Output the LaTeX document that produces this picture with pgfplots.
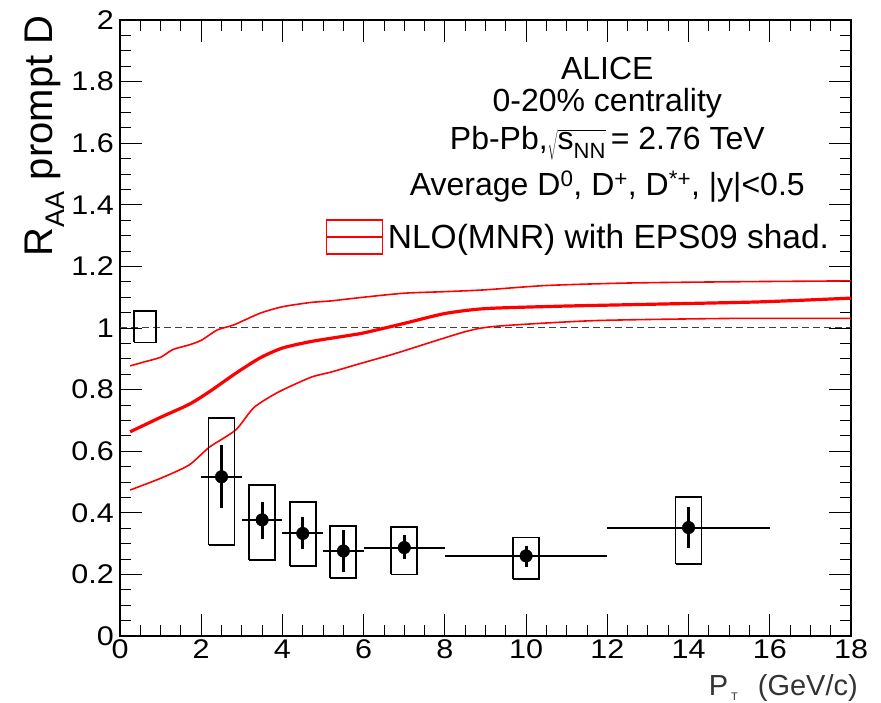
\documentclass[border=0pt]{standalone}
\usepackage{fontspec}
\setmainfont{Liberation Sans}
\usepackage{pgfplots}
\pgfplotsset{compat=1.18}

\newcommand{\ptext}[1]{\fontsize{#1}{#1}\selectfont}

\begin{document}
\begin{tikzpicture}[x=1pt,y=1pt]
\useasboundingbox (-120,-66) rectangle (761,636);
\begin{axis}[
  at={(0,0)}, anchor=south west,
  scale only axis, width=731pt, height=616pt,
  xmin=0, xmax=18, ymin=0, ymax=2,
  xtick={0,2,4,6,8,10,12,14,16,18},
  xticklabels={0,2,4,6,8,10,12,14,16,18},
  ytick={0,0.2,0.4,0.6,0.8,1,1.2,1.4,1.6,1.8,2},
  yticklabels={0,0.2,0.4,0.6,0.8,1,1.2,1.4,1.6,1.8,2},
  minor x tick num=3, minor y tick num=3,
  tick align=inside,
  major tick length=22pt, minor tick length=11pt,
  every tick/.style={black, line width=0.9pt},
  axis line style={black, line width=1.3pt},
  tick label style={font=\ptext{27}, xscale=1.13},
  yticklabel style={xshift=-2pt},
  /pgf/number format/assume math mode=true,
  legend style={at={(axis cs:5.05,1.295)}, anchor=west, draw=none, fill=none,
    font=\ptext{33.5}, inner sep=0pt, legend cell align=left,
    nodes={inner sep=4pt}},
  legend image code/.code={
    \draw[red, line width=1.6pt] (0pt,-17pt) rectangle (56pt,17pt);
    \draw[red, line width=2.6pt] (0pt,0pt) -- (56pt,0pt);
  },
]

% reference line at unity
\addplot[black!75, line width=1pt, dash pattern=on 7pt off 4pt, forget plot]
  coordinates {(0,1) (18,1)};

% NLO (MNR) with EPS09 shadowing: upper and lower edges of the band
\addplot[red, line width=1.6pt, smooth, tension=0.4, forget plot] coordinates {
  (0.25,0.877) (0.6,0.890) (1.0,0.905) (1.3,0.930) (1.7,0.945) (2.0,0.960)
  (2.4,0.994) (2.8,1.010) (3.45,1.048) (4.0,1.069) (4.7,1.083) (5.2,1.088)
  (6.0,1.100) (7.0,1.113) (8.0,1.118) (9.0,1.124) (10.5,1.138) (12.5,1.146)
  (15.0,1.150) (18.0,1.153)};
\addplot[red, line width=1.6pt, smooth, tension=0.4, forget plot] coordinates {
  (0.25,0.474) (1.0,0.512) (1.7,0.555) (2.2,0.613) (2.85,0.669) (3.3,0.742)
  (3.9,0.792) (4.7,0.840) (5.2,0.857) (5.9,0.884) (6.8,0.918) (8.5,0.988)
  (9.3,1.006) (11.7,1.024) (15.0,1.031) (18.0,1.031)};
% central value
\addplot[red, line width=3.2pt, smooth, tension=0.4] coordinates {
  (0.25,0.663) (1.0,0.710) (1.7,0.752) (2.2,0.793) (2.85,0.853) (3.45,0.903)
  (4.0,0.935) (4.7,0.956) (5.5,0.973) (6.0,0.984) (7.0,1.015) (8.0,1.047)
  (9.0,1.063) (10.9,1.071) (13.4,1.078) (15.8,1.085) (18.0,1.097)};
\addlegendentry{NLO(MNR) with EPS09 shad.}

% normalisation uncertainty
\addplot[black, line width=1.8pt, forget plot] coordinates {
  (0.34,0.953) (0.88,0.953) (0.88,1.056) (0.34,1.056) (0.34,0.953)};

% systematic uncertainty boxes
\addplot[black, line width=1.8pt, forget plot] coordinates {
  (2.18,0.295) (2.82,0.295) (2.82,0.708) (2.18,0.708) (2.18,0.295)};
\addplot[black, line width=1.8pt, forget plot] coordinates {
  (3.18,0.247) (3.82,0.247) (3.82,0.490) (3.18,0.490) (3.18,0.247)};
\addplot[black, line width=1.8pt, forget plot] coordinates {
  (4.18,0.227) (4.82,0.227) (4.82,0.435) (4.18,0.435) (4.18,0.227)};
\addplot[black, line width=1.8pt, forget plot] coordinates {
  (5.18,0.189) (5.82,0.189) (5.82,0.358) (5.18,0.358) (5.18,0.189)};
\addplot[black, line width=1.8pt, forget plot] coordinates {
  (6.68,0.200) (7.32,0.200) (7.32,0.353) (6.68,0.353) (6.68,0.200)};
\addplot[black, line width=1.8pt, forget plot] coordinates {
  (9.68,0.185) (10.32,0.185) (10.32,0.320) (9.68,0.320) (9.68,0.185)};
\addplot[black, line width=1.8pt, forget plot] coordinates {
  (13.68,0.234) (14.32,0.234) (14.32,0.452) (13.68,0.452) (13.68,0.234)};

% bin widths
\addplot[only marks, mark=none, forget plot,
  error bars/.cd, x dir=both, x explicit, error mark=none,
  error bar style={black, line width=2pt}] coordinates {
  (2.5,0.517) +- (0.5,0)
  (3.5,0.377) +- (0.5,0)
  (4.5,0.333) +- (0.5,0)
  (5.5,0.276) +- (0.5,0)
  (7,0.287)   +- (1,0)
  (10,0.260)  +- (2,0)
  (14,0.352)  +- (2,0)};

% statistical uncertainties
\addplot[only marks, mark=none, forget plot,
  error bars/.cd, y dir=both, y explicit, error mark=none,
  error bar style={black, line width=3pt}] coordinates {
  (2.5,0.517) += (0,0.102) -= (0,0.100)
  (3.5,0.377) += (0,0.059) -= (0,0.063)
  (4.5,0.333) += (0,0.054) -= (0,0.052)
  (5.5,0.276) += (0,0.068) -= (0,0.067)
  (7,0.287)   += (0,0.041) -= (0,0.038)
  (10,0.260)  += (0,0.033) -= (0,0.037)
  (14,0.352)  += (0,0.068) -= (0,0.065)};

% measured R_AA, average of D0, D+ and D*+
\addplot[only marks, mark=*, mark size=6.3pt, black, forget plot] coordinates {
  (2.5,0.517) (3.5,0.377) (4.5,0.333) (5.5,0.276) (7,0.287) (10,0.260) (14,0.352)};

% labels
\node[font=\ptext{32}] at (axis cs:12.0,1.844) {ALICE};
\node[font=\ptext{32}] at (axis cs:12.0,1.731) {0-20\% centrality};
\node[font=\ptext{32}] at (axis cs:12.0,1.601)
  {Pb-Pb,$\sqrt{\mbox{s\raisebox{-0.3em}{\ptext{22}NN}}}$\,= 2.76 TeV};
\node[font=\ptext{32}] at (axis cs:12.0,1.458)
  {Average D\textsuperscript{0}, D\textsuperscript{+}, D\textsuperscript{*+}, |y|<0.5};
\end{axis}

% axis titles
\node[rotate=90, anchor=base east, font=\ptext{40}] at (-67,624)
  {R\raisebox{-0.3em}{\ptext{27}AA} prompt D};
\node[anchor=base east, font=\ptext{29}, text=black!80, inner sep=0pt] at (738,-59)
  {P\hspace{3pt}\raisebox{-0.2em}{\ptext{11}T}\hspace{20pt}(GeV/c)};
\end{tikzpicture}
\end{document}
